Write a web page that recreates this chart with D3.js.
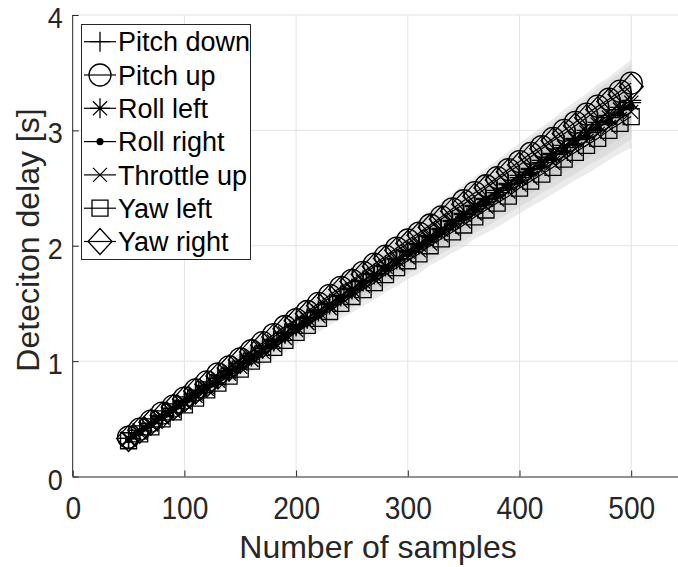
<!DOCTYPE html>
<html><head><meta charset="utf-8">
<script src="https://cdn.jsdelivr.net/npm/d3@7"></script>
<style>body{margin:0;background:#fff}svg{display:block;font-family:"Liberation Sans",Arial,Helvetica,sans-serif}</style>
</head><body><svg id="c" width="678" height="567"></svg>
<script>
const samples = [50,60,70,80,90,100,110,120,130,140,150,160,170,180,190,200,210,220,230,240,250,260,270,280,290,300,310,320,330,340,350,360,370,380,390,400,410,420,430,440,450,460,470,480,490,500];

const pitchDown = [0.33,0.40,0.46,0.53,0.59,0.66,0.72,0.79,0.85,0.92,0.98,1.05,1.11,1.18,1.24,1.31,1.37,1.44,1.50,1.57,1.63,1.70,1.76,1.83,1.89,1.96,2.02,2.09,2.15,2.22,2.28,2.35,2.41,2.48,2.54,2.61,2.67,2.74,2.80,2.87,2.93,3.00,3.07,3.13,3.20,3.26];
const pitchUp = [0.34,0.41,0.48,0.55,0.61,0.68,0.75,0.82,0.89,0.95,1.02,1.09,1.16,1.23,1.30,1.36,1.43,1.50,1.57,1.64,1.70,1.77,1.84,1.91,1.98,2.05,2.11,2.18,2.25,2.32,2.39,2.46,2.52,2.59,2.66,2.73,2.80,2.86,2.93,3.00,3.07,3.14,3.21,3.27,3.34,3.41];
const rollLeft = [0.33,0.40,0.46,0.52,0.59,0.65,0.72,0.78,0.85,0.91,0.98,1.04,1.11,1.17,1.24,1.30,1.37,1.43,1.49,1.56,1.62,1.69,1.75,1.82,1.88,1.95,2.01,2.08,2.14,2.21,2.27,2.34,2.40,2.46,2.53,2.59,2.66,2.72,2.79,2.85,2.92,2.98,3.05,3.11,3.18,3.24];
const rollRight = [0.32,0.38,0.45,0.51,0.58,0.64,0.71,0.77,0.83,0.90,0.96,1.03,1.09,1.16,1.22,1.28,1.35,1.41,1.48,1.54,1.60,1.67,1.73,1.80,1.86,1.93,1.99,2.05,2.12,2.18,2.25,2.31,2.38,2.44,2.50,2.57,2.63,2.70,2.76,2.83,2.89,2.95,3.02,3.08,3.15,3.21];
const throttleUp = [0.32,0.38,0.45,0.51,0.57,0.64,0.70,0.76,0.83,0.89,0.95,1.01,1.08,1.14,1.20,1.27,1.33,1.39,1.46,1.52,1.58,1.65,1.71,1.77,1.84,1.90,1.96,2.02,2.09,2.15,2.21,2.28,2.34,2.40,2.47,2.53,2.59,2.66,2.72,2.78,2.84,2.91,2.97,3.03,3.10,3.16];
const yawLeft = [0.31,0.37,0.43,0.50,0.56,0.62,0.68,0.75,0.81,0.87,0.93,1.00,1.06,1.12,1.18,1.25,1.31,1.37,1.43,1.50,1.56,1.62,1.68,1.75,1.81,1.87,1.93,2.00,2.06,2.12,2.18,2.25,2.31,2.37,2.43,2.50,2.56,2.62,2.68,2.75,2.81,2.87,2.93,3.00,3.06,3.12];
const yawRight = [0.33,0.40,0.47,0.53,0.60,0.67,0.74,0.80,0.87,0.94,1.01,1.08,1.14,1.21,1.28,1.35,1.41,1.48,1.55,1.62,1.69,1.75,1.82,1.89,1.96,2.02,2.09,2.16,2.23,2.30,2.36,2.43,2.50,2.57,2.64,2.70,2.77,2.84,2.91,2.97,3.04,3.11,3.18,3.25,3.31,3.38];

// spread (standard deviation) of each series
const pitchDownSd = [0.02,0.02,0.03,0.03,0.03,0.04,0.04,0.05,0.05,0.05,0.06,0.06,0.06,0.07,0.07,0.08,0.08,0.08,0.09,0.09,0.10,0.10,0.10,0.11,0.11,0.11,0.12,0.12,0.13,0.13,0.13,0.14,0.14,0.14,0.15,0.15,0.16,0.16,0.16,0.17,0.17,0.17,0.18,0.18,0.19,0.19];
const pitchUpSd = [0.02,0.02,0.03,0.03,0.04,0.04,0.04,0.05,0.05,0.06,0.06,0.06,0.07,0.07,0.08,0.08,0.08,0.09,0.09,0.10,0.10,0.10,0.11,0.11,0.12,0.12,0.12,0.13,0.13,0.14,0.14,0.14,0.15,0.15,0.16,0.16,0.16,0.17,0.17,0.18,0.18,0.18,0.19,0.19,0.20,0.20];
const rollLeftSd = [0.02,0.02,0.03,0.03,0.04,0.04,0.04,0.05,0.05,0.06,0.06,0.06,0.07,0.07,0.08,0.08,0.08,0.09,0.09,0.10,0.10,0.10,0.11,0.11,0.12,0.12,0.12,0.13,0.13,0.14,0.14,0.14,0.15,0.15,0.16,0.16,0.16,0.17,0.17,0.18,0.18,0.18,0.19,0.19,0.20,0.20];
const rollRightSd = [0.02,0.03,0.03,0.04,0.04,0.04,0.05,0.05,0.06,0.06,0.07,0.07,0.07,0.08,0.08,0.09,0.09,0.10,0.10,0.11,0.11,0.11,0.12,0.12,0.13,0.13,0.14,0.14,0.15,0.15,0.15,0.16,0.16,0.17,0.17,0.18,0.18,0.18,0.19,0.19,0.20,0.20,0.21,0.21,0.22,0.22];
const throttleUpSd = [0.02,0.03,0.03,0.04,0.04,0.05,0.05,0.06,0.06,0.07,0.07,0.08,0.08,0.09,0.09,0.10,0.10,0.11,0.11,0.12,0.12,0.12,0.13,0.13,0.14,0.14,0.15,0.15,0.16,0.16,0.17,0.17,0.18,0.18,0.19,0.19,0.20,0.20,0.21,0.21,0.22,0.22,0.23,0.23,0.24,0.24];
const yawLeftSd = [0.03,0.03,0.04,0.04,0.05,0.05,0.06,0.06,0.07,0.08,0.08,0.09,0.09,0.10,0.10,0.11,0.11,0.12,0.12,0.13,0.14,0.14,0.15,0.15,0.16,0.16,0.17,0.17,0.18,0.18,0.19,0.19,0.20,0.21,0.21,0.22,0.22,0.23,0.23,0.24,0.24,0.25,0.25,0.26,0.26,0.27];
const yawRightSd = [0.02,0.02,0.03,0.03,0.03,0.04,0.04,0.05,0.05,0.05,0.06,0.06,0.06,0.07,0.07,0.08,0.08,0.08,0.09,0.09,0.10,0.10,0.10,0.11,0.11,0.11,0.12,0.12,0.13,0.13,0.13,0.14,0.14,0.14,0.15,0.15,0.16,0.16,0.16,0.17,0.17,0.17,0.18,0.18,0.19,0.19];

const seriesNames = ["Pitch down","Pitch up","Roll left","Roll right","Throttle up","Yaw left","Yaw right"];
const seriesMarkers = ["plus","circle","asterisk","dot","cross","square","diamond"];
const xTicks = [0,100,200,300,400,500];
const yTicks = [0,1,2,3,4];
const xLabel = "Number of samples";
const yLabel = "Deteciton delay [s]";

const seriesValues = [pitchDown,pitchUp,rollLeft,rollRight,throttleUp,yawLeft,yawRight];
const seriesSd = [pitchDownSd,pitchUpSd,rollLeftSd,rollRightSd,throttleUpSd,yawLeftSd,yawRightSd];

const svg = d3.select("#c");
const L = 72.7, B = 476.5, T = 15;
const x = d3.scaleLinear().domain([0,550]).range([L, L + 111.7*5.5]);
const y = d3.scaleLinear().domain([0,4]).range([B, T]);
const ink = "#262626";

// grid
const grid = svg.append("g");
grid.selectAll("line.v").data(xTicks.filter(d=>d>0)).join("line")
  .attr("x1",d=>x(d)).attr("x2",d=>x(d)).attr("y1",T).attr("y2",B)
  .attr("stroke","#e3e3e3").attr("stroke-width",1);
grid.selectAll("line.h").data(yTicks.filter(d=>d>0)).join("line")
  .attr("x1",L).attr("x2",678).attr("y1",d=>y(d)).attr("y2",d=>y(d))
  .attr("stroke","#e3e3e3").attr("stroke-width",1);

// bands
const area = d3.area().x((d,i)=>x(samples[i])).y0(d=>y(d[0])).y1(d=>y(d[1]));
seriesValues.forEach((vals,k)=>{
  const sd = seriesSd[k];
  const pts = vals.map((v,i)=>[v-sd[i], v+sd[i]]);
  svg.append("path").attr("d",area(pts)).attr("fill","#c6c6c6").attr("fill-opacity",0.35).attr("stroke","none");
});

// marker shapes
function markerPath(type){
  switch(type){
    case "plus": return "M-10,0H10M0,-10V10";
    case "circle": return "M11,0A11,11 0 1 1 -11,0A11,11 0 1 1 11,0Z";
    case "asterisk": return "M-10,0H10M0,-10V10M-7.1,-7.1L7.1,7.1M-7.1,7.1L7.1,-7.1";
    case "cross": return "M-7,-7L7,7M-7,7L7,-7";
    case "square": return "M-8,-8H8V8H-8Z";
    case "diamond": return "M0,-13L12,0L0,13L-12,0Z";
  }
  return "";
}
function drawMarker(g, type, cx, cy){
  if(type==="dot"){
    g.append("circle").attr("cx",cx).attr("cy",cy).attr("r",3.6).attr("fill","#000");
  } else {
    g.append("path").attr("d",markerPath(type)).attr("transform",`translate(${cx},${cy})`)
      .attr("fill","none").attr("stroke","#000").attr("stroke-width",1.3);
  }
}

const line = d3.line().x((d,i)=>x(samples[i])).y(d=>y(d));
seriesValues.forEach((vals,k)=>{
  const g = svg.append("g");
  g.append("path").attr("d",line(vals)).attr("fill","none").attr("stroke","#000").attr("stroke-width",1.2);
  vals.forEach((v,i)=>drawMarker(g, seriesMarkers[k], x(samples[i]), y(v)));
});

// axes
const xAxis = d3.axisBottom(x).tickValues(xTicks).tickSize(-6).tickPadding(12).tickFormat(d3.format("d"));
const yAxis = d3.axisLeft(y).tickValues(yTicks).tickSize(-6).tickPadding(10).tickFormat(d3.format("d"));
const gx = svg.append("g").attr("transform",`translate(0,${B})`).call(xAxis);
const gy = svg.append("g").attr("transform",`translate(${L},0)`).call(yAxis);
gx.select(".domain").attr("d",`M${L},0.5H678`).attr("stroke",ink);
gy.select(".domain").attr("d",`M0,${T}V${B}`).attr("stroke",ink);
[gx,gy].forEach(g=>{
  g.selectAll(".tick line").attr("stroke",ink);
  g.selectAll(".tick text").attr("fill",ink).style("font-family",'"Liberation Sans",Arial,sans-serif');
});
gx.selectAll(".tick text").style("font-size","32px").attr("dy","0").attr("y",43).attr("transform","scale(0.88,1)");
gy.selectAll(".tick text").style("font-size","30px").attr("x",-11).attr("dy","0.42em").attr("transform","scale(0.9,1)");

svg.append("text").attr("x",378).attr("y",558).attr("text-anchor","middle")
  .attr("fill",ink).style("font-size","32px").text(xLabel);
svg.append("text").attr("transform","translate(39,240) rotate(-90)").attr("text-anchor","middle")
  .attr("fill",ink).style("font-size","32px").text(yLabel);

// legend
const lg = svg.append("g");
lg.append("rect").attr("x",81.5).attr("y",24.5).attr("width",169).attr("height",235)
  .attr("fill","#fff").attr("stroke",ink).attr("stroke-width",1);
seriesNames.forEach((name,k)=>{
  const cy = 41.7 + k*33.3;
  lg.append("line").attr("x1",84).attr("x2",116).attr("y1",cy).attr("y2",cy).attr("stroke","#000").attr("stroke-width",1.2);
  drawMarker(lg, seriesMarkers[k], 100, cy);
  lg.append("text").attr("x",118).attr("y",cy).attr("dy","0.36em").attr("fill","#000")
    .style("font-size","27px").text(name);
});
</script></body></html>
